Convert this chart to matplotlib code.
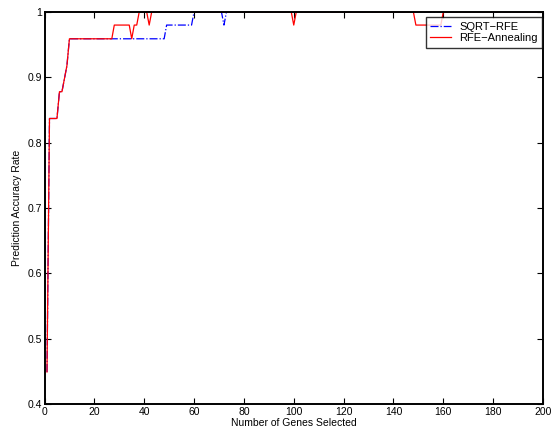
import matplotlib
matplotlib.use("Agg")
import matplotlib.pyplot as plt
import numpy as np

plt.rcParams['font.family'] = ['Liberation Sans', 'DejaVu Sans']

# Data (number of genes 1..200)
genes = list(range(1, 201))

early = [0.449, 0.837, 0.837, 0.837, 0.837, 0.878, 0.878, 0.898, 0.918, 0.959]

# RFE-Annealing: (start, end, value) segments after gene 10
anneal_segments = [
    (11, 27, 0.959), (28, 34, 0.980), (35, 35, 0.959), (36, 37, 0.980),
    (38, 41, 1.0), (42, 42, 0.980), (43, 99, 1.0), (100, 100, 0.980),
    (101, 148, 1.0), (149, 159, 0.980), (160, 200, 1.0),
]
# SQRT-RFE segments after gene 10
sqrt_segments = [
    (11, 48, 0.959), (49, 59, 0.980), (60, 71, 1.0), (72, 72, 0.980),
    (73, 200, 1.0),
]

def build(segs):
    vals = list(early)
    for s, e, v in segs:
        vals += [v] * (e - s + 1)
    return vals

sqrt_rfe = build(sqrt_segments)
rfe_anneal = build(anneal_segments)

fig = plt.figure(figsize=(5.53, 4.33), dpi=100)
ax = fig.add_axes([44.5/553, 1 - 404/433, (543 - 44.5)/553, (404 - 12)/433])

ax.plot(genes, sqrt_rfe, color='blue', linestyle='-.', linewidth=0.9, label='SQRT\u2212RFE')
ax.plot(genes, rfe_anneal, color='red', linestyle='-', linewidth=0.9, label='RFE\u2212Annealing')

ax.set_xlim(0, 200)
ax.set_ylim(0.4, 1.0)
ax.set_xticks(np.arange(0, 201, 20))
ax.set_yticks([0.4, 0.5, 0.6, 0.7, 0.8, 0.9, 1.0])
ax.set_yticklabels(['0.4', '0.5', '0.6', '0.7', '0.8', '0.9', '1'])
ax.tick_params(direction='in', top=True, right=True, labelsize=7.5, length=4, width=0.8, pad=2)
for sp in ax.spines.values():
    sp.set_linewidth(1.4)

ax.set_xlabel('Number of Genes Selected', fontsize=7.5, labelpad=1)
ax.set_ylabel('Prediction Accuracy Rate', fontsize=7.5, labelpad=4)

leg = ax.legend(loc='upper right', bbox_to_anchor=(0.998, 0.987), borderaxespad=0,
                fontsize=8, frameon=True, fancybox=False,
                edgecolor='black', handlelength=1.9,
                handletextpad=0.7, borderpad=0.4, labelspacing=0.15)
leg.get_frame().set_linewidth(1.0)

fig.savefig('out.png', dpi=100)
